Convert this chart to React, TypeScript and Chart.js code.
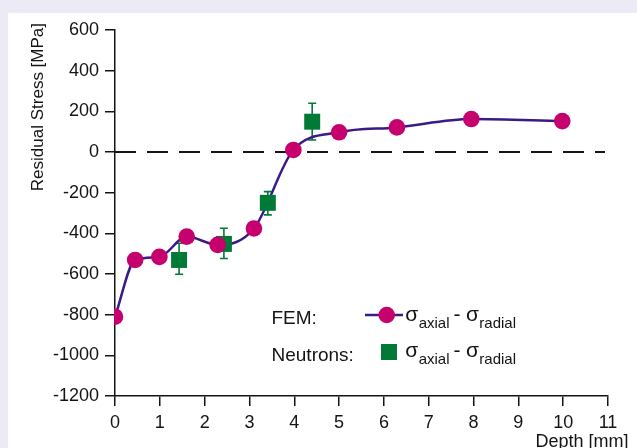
import React, { useEffect, useRef } from "react";
import { Chart, registerables } from "chart.js";

Chart.register(...registerables);

// ---- data ----
const femDepth = [0, 0.45, 0.99, 1.6, 2.29, 3.1, 3.98, 5.0, 6.29, 7.95, 9.98];
const femStress = [-810, -531, -516, -416, -457, -376, 10, 97, 121, 162, 152];

const neutronDepth = [1.43, 2.43, 3.41, 4.4];
const neutronStress = [-531, -452, -250, 149];
const neutronErrLow = [-601, -524, -309, 59];
const neutronErrHigh = [-449, -375, -195, 240];

const xTicksMin = 0;
const xTicksMax = 11;
const yTicksMin = -1200;
const yTicksMax = 600;

// ---- styles ----
const FONT = '"Liberation Sans", Arial, sans-serif';
const MAGENTA = "#C6006C";
const PURPLE = "#3B1A88";
const GREEN = "#007A36";
const INK = "#141414";

const decorPlugin = {
  id: "decor",
  beforeDatasetsDraw(chart: any) {
    const { ctx, chartArea, scales } = chart;
    const x = scales.x;
    const y = scales.y;
    ctx.save();
    // dashed zero line
    const y0 = y.getPixelForValue(0);
    ctx.strokeStyle = INK;
    ctx.lineWidth = 1.8;
    ctx.setLineDash([21, 11]);
    ctx.beginPath();
    ctx.moveTo(chartArea.left, y0);
    ctx.lineTo(chartArea.right - 3, y0);
    ctx.stroke();
    ctx.setLineDash([]);
    // error bars
    ctx.strokeStyle = GREEN;
    ctx.lineWidth = 1.6;
    neutronDepth.forEach((d, i) => {
      const px = x.getPixelForValue(d);
      const lo = y.getPixelForValue(neutronErrLow[i]);
      const hi = y.getPixelForValue(neutronErrHigh[i]);
      ctx.beginPath();
      ctx.moveTo(px, lo);
      ctx.lineTo(px, hi);
      ctx.moveTo(px - 4, lo);
      ctx.lineTo(px + 4, lo);
      ctx.moveTo(px - 4, hi);
      ctx.lineTo(px + 4, hi);
      ctx.stroke();
    });
    ctx.restore();
  },
  afterDraw(chart: any) {
    const { ctx } = chart;
    ctx.save();
    ctx.fillStyle = INK;
    // y title
    ctx.save();
    ctx.translate(35, 10);
    ctx.rotate(-Math.PI / 2);
    ctx.font = `17px ${FONT}`;
    ctx.textAlign = "right";
    ctx.textBaseline = "alphabetic";
    ctx.fillText("Residual Stress [MPa]", 0, 0);
    ctx.restore();
    // x title
    ctx.font = `18px ${FONT}`;
    ctx.textAlign = "right";
    ctx.textBaseline = "alphabetic";
    ctx.fillText("Depth [mm]", 620.5, 433.5);

    // legend
    ctx.textAlign = "left";
    ctx.font = `19px ${FONT}`;
    ctx.fillText("FEM:", 263.5, 310.5);
    ctx.fillText("Neutrons:", 263.5, 347.5);

    // FEM symbol
    ctx.strokeStyle = PURPLE;
    ctx.lineWidth = 2.5;
    ctx.beginPath();
    ctx.moveTo(357, 302);
    ctx.lineTo(395, 302);
    ctx.stroke();
    ctx.fillStyle = MAGENTA;
    ctx.beginPath();
    ctx.arc(378.7, 302, 8.3, 0, Math.PI * 2);
    ctx.fill();
    // Neutron symbol
    ctx.fillStyle = GREEN;
    ctx.fillRect(373, 331, 16, 16);

    const rows = [307.7, 343.7];
    ctx.fillStyle = INK;
    rows.forEach((b) => {
      ctx.font = `21px ${FONT}`;
      ctx.fillText("σ", 397.3, b);
      ctx.fillText("-", 445.5, b);
      ctx.fillText("σ", 458, b);
      ctx.font = `15px ${FONT}`;
      ctx.fillText("axial", 410.7, b + 7.3);
      ctx.fillText("radial", 471.3, b + 7.3);
    });
    ctx.restore();
  },
};

export default function App() {
  const ref = useRef<HTMLCanvasElement | null>(null);

  useEffect(() => {
    document.body.style.margin = "0";
    const canvas = ref.current;
    if (!canvas) return;
    const femPts = femDepth.map((d, i) => ({ x: d, y: femStress[i] }));
    const neuPts = neutronDepth.map((d, i) => ({ x: d, y: neutronStress[i] }));
    const tickFont = { family: FONT, size: 18 };
    const chart = new Chart(canvas, {
      type: "scatter",
      data: {
        datasets: [
          {
            label: "FEM points",
            data: femPts,
            showLine: false,
            pointRadius: 8.3,
            pointHoverRadius: 8.3,
            pointBackgroundColor: MAGENTA,
            pointBorderWidth: 0,
            borderWidth: 0,
            clip: 1,
            order: 0,
          } as any,
          {
            label: "Neutrons",
            data: neuPts,
            showLine: false,
            pointStyle: "rect",
            pointRadius: 11.3,
            pointHoverRadius: 11.3,
            pointBackgroundColor: GREEN,
            pointBorderWidth: 0,
            borderWidth: 0,
            order: 1,
          } as any,
          {
            label: "FEM",
            data: femPts,
            showLine: true,
            borderColor: PURPLE,
            borderWidth: 2.5,
            pointRadius: 0,
            pointHoverRadius: 0,
            cubicInterpolationMode: "monotone",
            clip: 1,
            order: 2,
          } as any,
        ],
      },
      options: {
        responsive: false,
        animation: false,
        events: [],
        layout: { padding: { left: 0, top: 17, right: 29, bottom: 0 } },
        plugins: { legend: { display: false }, tooltip: { enabled: false } },
        scales: {
          x: {
            type: "linear",
            min: xTicksMin,
            max: xTicksMax,
            afterFit: (s: any) => {
              s.height = 52;
            },
            ticks: {
              stepSize: 1,
              color: INK,
              font: tickFont,
              padding: 6,
              maxRotation: 0,
              autoSkip: false,
              callback: (v: any) => String(v),
            },
            grid: { drawOnChartArea: false, color: INK, lineWidth: 1.5, tickLength: 10 },
            border: { color: INK, width: 1.5 },
          },
          y: {
            type: "linear",
            min: yTicksMin,
            max: yTicksMax,
            z: 1,
            afterFit: (s: any) => {
              s.width = 107;
            },
            ticks: {
              stepSize: 200,
              color: INK,
              font: tickFont,
              padding: 6,
              autoSkip: false,
              callback: (v: any) => String(v),
            },
            grid: { drawOnChartArea: false, color: INK, lineWidth: 1.5, tickLength: 10 },
            border: { color: INK, width: 1.5 },
          },
        },
      } as any,
      plugins: [decorPlugin],
    });
    return () => chart.destroy();
  }, []);

  return (
    <div
      style={{
        position: "fixed",
        left: 0,
        top: 0,
        width: 637,
        height: 448,
        background: "#ECEBF5",
        overflow: "hidden",
      }}
    >
      <div
        style={{
          position: "absolute",
          left: 8,
          top: 13,
          width: 629,
          height: 435,
          background: "#FFFFFF",
        }}
      >
        <canvas ref={ref} width={629} height={435} style={{ display: "block" }} />
      </div>
    </div>
  );
}
